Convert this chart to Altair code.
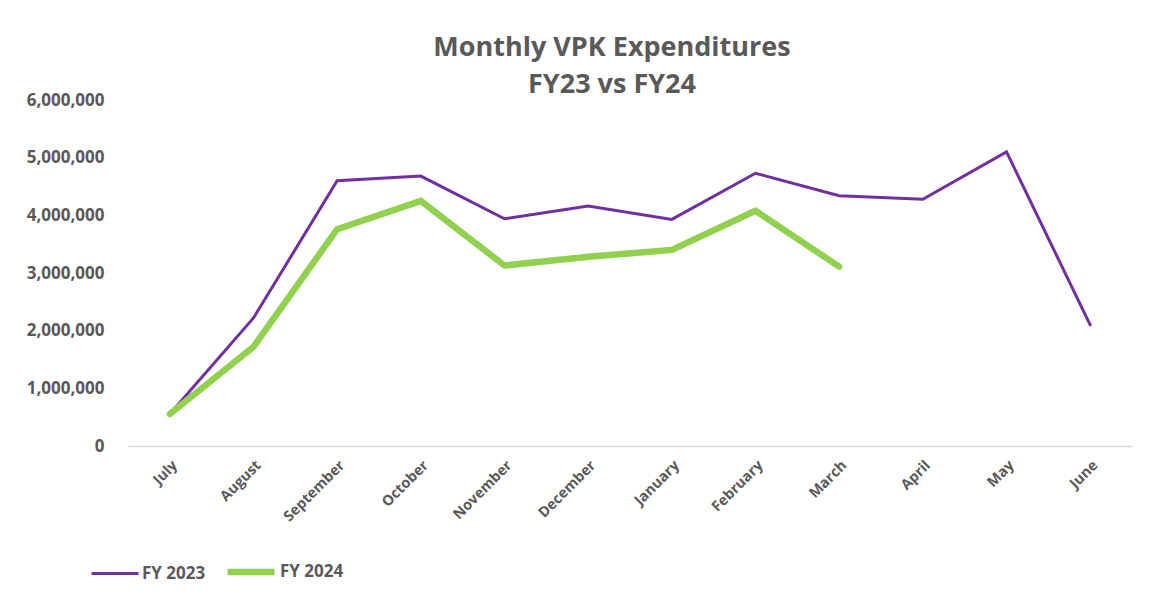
import altair as alt
import pandas as pd

months = ["July", "August", "September", "October", "November", "December",
          "January", "February", "March", "April", "May", "June"]
fy2023 = [555000, 2220000, 4600000, 4680000, 3940000, 4160000,
          3930000, 4730000, 4340000, 4280000, 5100000, 2100000]
fy2024 = [555000, 1720000, 3760000, 4250000, 3130000, 3280000,
          3400000, 4080000, 3110000]

rows = []
for m, v in zip(months, fy2023):
    rows.append({"month": m, "value": v, "series": "FY 2023"})
for m, v in zip(months, fy2024):
    rows.append({"month": m, "value": v, "series": "FY 2024"})
df = pd.DataFrame(rows)

FONT = "Open Sans"
GREY = "#595959"
series = ["FY 2023", "FY 2024"]

legend = alt.Legend(
    title=None, orient="none", legendX=-38, legendY=445, direction="horizontal",
    symbolType="stroke", symbolSize=2200, labelFontSize=17, labelColor=GREY,
    labelFont=FONT, labelFontWeight="bold", columnPadding=8, symbolOffset=0,
    labelOffset=2,
)

chart = alt.Chart(df).mark_line(strokeCap="round", strokeJoin="miter").encode(
    x=alt.X("month:N", sort=months, title=None,
            scale=alt.Scale(paddingInner=0, paddingOuter=0.5),
            axis=alt.Axis(labelAngle=-45, labelFontSize=14.5, labelColor=GREY,
                          labelFont=FONT, labelFontWeight="bold", ticks=False,
                          domainColor="#d9d9d9", domainWidth=1.5, labelPadding=12)),
    y=alt.Y("value:Q", title=None,
            scale=alt.Scale(domain=[0, 6000000], nice=False),
            axis=alt.Axis(values=[0, 1000000, 2000000, 3000000, 4000000, 5000000, 6000000],
                          format=",d", grid=False, domain=False, ticks=False,
                          labelFontSize=17, labelColor=GREY, labelFont=FONT,
                          labelFontWeight="bold", labelPadding=24)),
    color=alt.Color("series:N", scale=alt.Scale(domain=series, range=["#7030a0", "#92d050"]),
                    legend=legend),
    strokeWidth=alt.StrokeWidth("series:N", scale=alt.Scale(domain=series, range=[3, 6.5]),
                                legend=legend),
    detail="series:N",
).properties(
    width=1004, height=346,
    autosize=alt.AutoSizeParams(type="none"),
    padding={"left": 120, "top": 92, "right": 10, "bottom": 150},
    title=alt.TitleParams(["Monthly VPK Expenditures", "FY23 vs FY24"], fontSize=27,
                          font=FONT, fontWeight="bold", color=GREY, lineHeight=37,
                          anchor="middle", offset=-8, dx=-18),
).configure_view(stroke=None)

chart.save("out.html", embed_options={"renderer": "svg", "actions": False})
